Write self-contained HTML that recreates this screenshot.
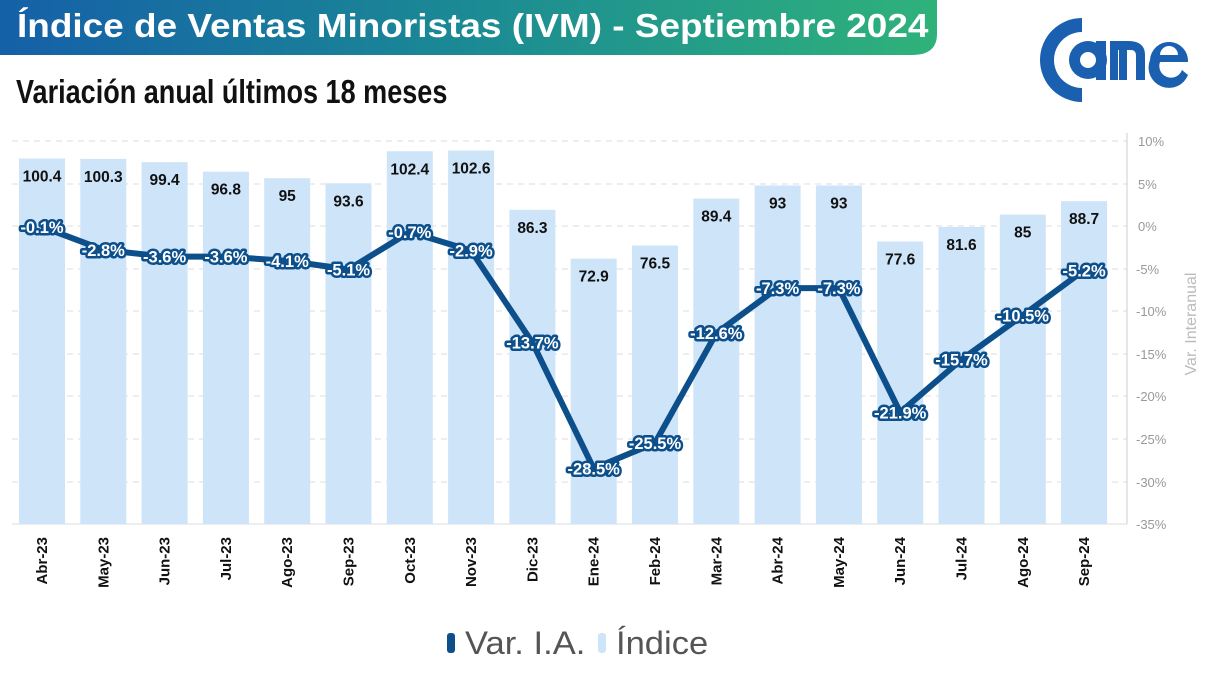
<!DOCTYPE html>
<html><head><meta charset="utf-8"><style>
body{margin:0;width:1213px;height:682px;background:#fff;overflow:hidden;font-family:"Liberation Sans",sans-serif}
</style></head><body>
<svg width="1213" height="682" xmlns="http://www.w3.org/2000/svg" font-family="Liberation Sans, sans-serif">
<defs><linearGradient id="g" x1="0" x2="1"><stop offset="0" stop-color="#1560a8"/><stop offset="0.5" stop-color="#1b8a94"/><stop offset="1" stop-color="#2fb27a"/></linearGradient></defs>
<path d="M0 0H937V34Q937 55 912 55H0Z" fill="url(#g)"/>
<text x="17" y="37" fill="#fff" font-size="33" font-weight="bold" transform="translate(17,0) scale(1.12,1) translate(-17,0)">Índice de Ventas Minoristas (IVM) - Septiembre 2024</text>
<text x="16" y="103" fill="#111" font-size="33" font-weight="bold" transform="translate(16,0) scale(0.82,1) translate(-16,0)">Variación anual últimos 18 meses</text>
<!-- logo -->
<g fill="#1b5fb0">
<path d="M1082 18 A42 42 0 1 0 1082 102 L1082 88 A28 28 0 1 1 1082 32Z"/>
<circle cx="1088" cy="60" r="19"/><rect x="1096" y="41" width="10" height="39"/>
<circle cx="1088" cy="60" r="8" fill="#fff"/>
<path d="M1110 80V41H1128Q1145 41 1145 55V80H1136V56Q1136 50 1131 50H1127V80H1119V50H1118V80Z"/>
<path d="M1150 60A19 19 0 1 1 1188 62H1160A9 9 0 0 0 1182 70L1188 75A19 19 0 0 1 1150 60ZM1160 55H1178A9 9 0 0 0 1160 55Z"/>
</g>
<!-- grid -->
<g stroke="#ddd" stroke-dasharray="6,5">
<line x1="12" x2="1127" y1="141" y2="141"/><line x1="12" x2="1127" y1="184" y2="184"/><line x1="12" x2="1127" y1="226" y2="226"/><line x1="12" x2="1127" y1="269" y2="269"/><line x1="12" x2="1127" y1="311" y2="311"/><line x1="12" x2="1127" y1="354" y2="354"/><line x1="12" x2="1127" y1="396" y2="396"/><line x1="12" x2="1127" y1="439" y2="439"/><line x1="12" x2="1127" y1="482" y2="482"/>
</g>
<line x1="12" x2="1127" y1="524" y2="524" stroke="#ddd"/>
<line x1="1127" x2="1127" y1="133" y2="524" stroke="#ccc"/>
<g fill="#999" font-size="13">
<text x="1138" y="146">10%</text><text x="1138" y="189">5%</text><text x="1138" y="231">0%</text><text x="1136" y="274">-5%</text><text x="1136" y="316">-10%</text><text x="1136" y="359">-15%</text><text x="1136" y="401">-20%</text><text x="1136" y="444">-25%</text><text x="1136" y="487">-30%</text><text x="1136" y="529">-35%</text>
</g>
<text transform="translate(1196,324) rotate(-90)" text-anchor="middle" fill="#bbb" font-size="16">Var. Interanual</text>
<g id="bars"></g>
<polyline id="ln" fill="none" stroke="#0d4f8b" stroke-width="6" stroke-linejoin="round"/>
<g id="lab"></g>
<rect x="447" y="633" width="8" height="20" rx="3" fill="#0d4f8b"/>
<text x="465" y="654" font-size="32" fill="#555" transform="translate(465,0) scale(1.08,1) translate(-465,0)">Var. I.A.</text>
<rect x="598" y="633" width="8" height="20" rx="3" fill="#cde4f9"/>
<text x="616" y="654" font-size="32" fill="#555" transform="translate(616,0) scale(1.08,1) translate(-616,0)">Índice</text>
</svg>
<script>
const m=["Abr-23","May-23","Jun-23","Jul-23","Ago-23","Sep-23","Oct-23","Nov-23","Dic-23","Ene-24","Feb-24","Mar-24","Abr-24","May-24","Jun-24","Jul-24","Ago-24","Sep-24"];
const idx=[100.4,100.3,99.4,96.8,95,93.6,102.4,102.6,86.3,72.9,76.5,89.4,93,93,77.6,81.6,85,88.7];
const v=[-0.1,-2.8,-3.6,-3.6,-4.1,-5.1,-0.7,-2.9,-13.7,-28.5,-25.5,-12.6,-7.3,-7.3,-21.9,-15.7,-10.5,-5.2];
const NS="http://www.w3.org/2000/svg";
function el(t,a,p,txt){const e=document.createElementNS(NS,t);for(const k in a)e.setAttribute(k,a[k]);if(txt!==undefined)e.textContent=txt;p.appendChild(e);return e;}
const B=document.getElementById("bars"),L=document.getElementById("lab");let pts=[];
for(let i=0;i<18;i++){const cx=42+i*61.3,top=524-idx[i]*3.64;
el("rect",{x:cx-23,y:top,width:46,height:524-top,fill:"#cde4f9"},B);
el("text",{x:cx,y:top+23,"text-anchor":"middle","font-size":"15.5","font-weight":"bold",fill:"#111"},B,String(idx[i]));
el("text",{transform:`translate(${cx+5},537) rotate(-90)`,"text-anchor":"end","font-size":"15","font-weight":"bold",fill:"#111"},B,m[i]);
const y=226-v[i]*8.51;pts.push(cx+","+y);
el("text",{x:cx,y:y+6,"text-anchor":"middle","font-size":"16.5","font-weight":"bold",fill:"#fff",stroke:"#0d4f8b","stroke-width":"5","stroke-linejoin":"round","paint-order":"stroke"},L,v[i].toFixed(1)+"%");}
document.getElementById("ln").setAttribute("points",pts.join(" "));
</script>
</body></html>
